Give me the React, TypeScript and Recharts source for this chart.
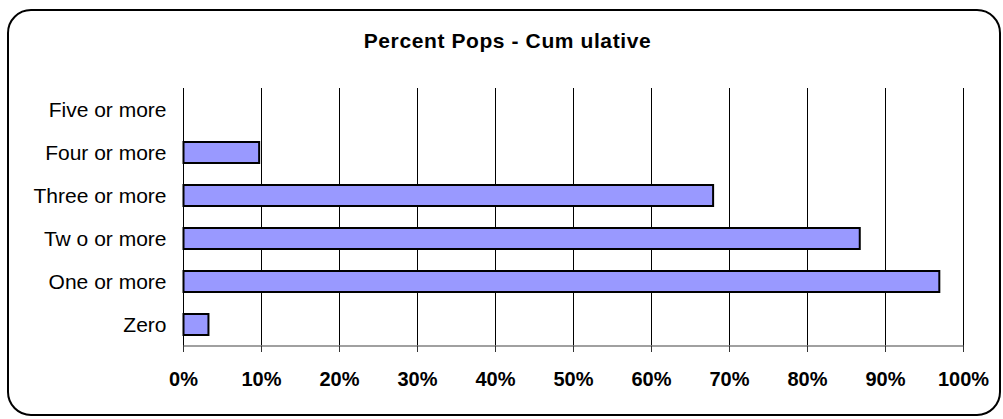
import { BarChart, Bar, XAxis, YAxis, CartesianGrid } from 'recharts';

const categories = ['Five or more', 'Four or more', 'Three or more', 'Tw o or more', 'One or more', 'Zero'];
const percentValues = [0, 0.097, 0.679, 0.867, 0.969, 0.032];
const xTicks = [0, 0.1, 0.2, 0.3, 0.4, 0.5, 0.6, 0.7, 0.8, 0.9, 1];
const boundaryTicks = [0, 1, 2, 3, 4, 5, 6];

const chartData = categories.map((name, i) => ({ name, value: percentValues[i] }));

const font = '"Liberation Sans", Arial, sans-serif';

export default function App() {
  return (
    <div style={{ position: 'absolute', left: 0, top: 0, width: 1003, height: 419, background: '#fff', fontFamily: font }}>
      <div
        style={{
          position: 'absolute',
          left: 7,
          top: 9,
          width: 994,
          height: 407,
          boxSizing: 'border-box',
          border: '2px solid #000',
          borderRadius: 24,
        }}
      />
      <div
        style={{
          position: 'absolute',
          left: 6,
          top: 30,
          width: 1003,
          textAlign: 'center',
          fontSize: 21,
          fontWeight: 'bold',
          letterSpacing: 0.6,
          lineHeight: 1,
          color: '#000',
        }}
      >
        Percent Pops - Cum ulative
      </div>
      <span style={{ position: 'absolute', left: 520, top: 188, fontSize: 13, lineHeight: 1 }}>`</span>
      <div style={{ position: 'absolute', left: 0, top: 0 }}>
        <BarChart
          width={1003}
          height={419}
          data={chartData}
          layout="vertical"
          margin={{ top: 88, right: 39.5, bottom: 0, left: 0.5 }}
          barSize={21}
        >
          <CartesianGrid horizontal={false} stroke="#000" strokeWidth={1} />
          <XAxis
            type="number"
            domain={[0, 1]}
            ticks={xTicks}
            tickFormatter={(v) => `${Math.round(v * 100)}%`}
            height={73}
            axisLine={{ stroke: '#808080', strokeWidth: 1.5 }}
            tickLine={{ stroke: '#333' }}
            tickSize={6}
            tickMargin={20}
            tick={{ fontSize: 20, fontWeight: 'bold', fill: '#000', fontFamily: font }}
          />
          <YAxis
            type="category"
            dataKey="name"
            width={183}
            axisLine={false}
            tickLine={false}
            tickSize={6}
            tickMargin={11}
            tick={{ fontSize: 21, fill: '#000', fontFamily: font }}
          />
          <YAxis
            yAxisId="bounds"
            type="number"
            domain={[0, 6]}
            ticks={boundaryTicks}
            width={0}
            tick={false}
            tickSize={6}
            axisLine={{ stroke: '#808080', strokeWidth: 1.5 }}
            tickLine={{ stroke: '#808080' }}
          />
          <Bar dataKey="value" fill="#9999FF" stroke="#000" strokeWidth={2} isAnimationActive={false} />
        </BarChart>
      </div>
    </div>
  );
}
